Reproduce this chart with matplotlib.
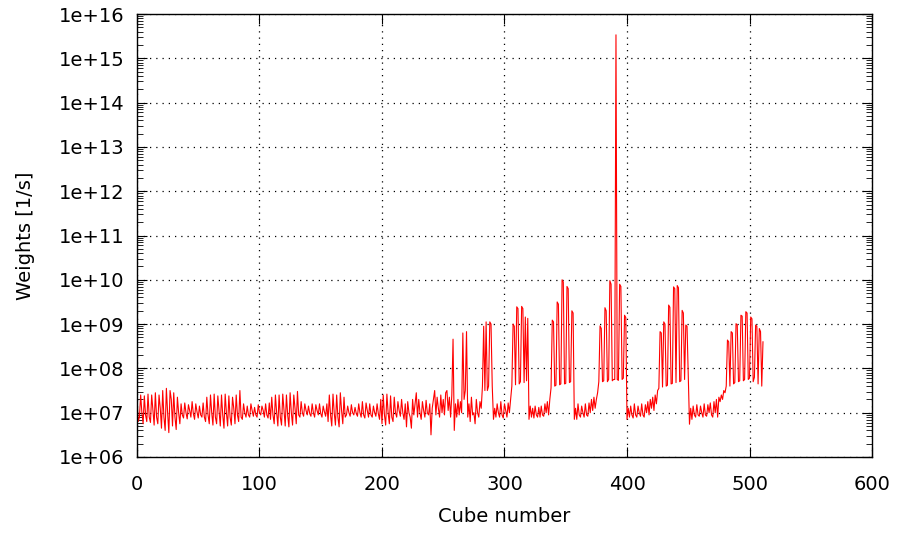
import numpy as np
import matplotlib
matplotlib.use("Agg")
import matplotlib.pyplot as plt
from matplotlib.ticker import FixedLocator, FuncFormatter, LogLocator, NullFormatter

# log10 of the weight for each cube
weights_log10 = [
    7.35, 6.8, 6.9, 7.4, 7.0, 6.75, 7.38, 6.95, 6.8, 7.42, 6.9, 6.78, 7.4, 7.05, 6.72, 7.45,
    6.9, 6.75, 7.4, 7.1, 6.65, 7.5, 6.9, 6.6, 7.55, 7.0, 6.55, 7.5, 7.3, 6.7, 7.45, 6.9,
    6.62, 7.35, 7.0, 6.75, 7.2, 6.95, 6.88, 7.22, 7.0, 6.86, 7.18, 7.05, 6.9, 7.25, 6.98, 6.85,
    7.2, 7.02, 6.88, 7.15, 6.95, 6.9, 7.22, 6.9, 6.8, 7.35, 6.95, 6.75, 7.4, 7.0, 6.72, 7.42,
    6.9, 6.75, 7.38, 7.05, 6.7, 7.4, 6.95, 6.65, 7.42, 7.0, 6.7, 7.38, 6.9, 6.72, 7.35, 7.1,
    6.75, 7.4, 6.95, 6.8, 7.5, 6.9, 6.85, 7.2, 7.0, 6.9, 7.15, 6.95, 6.9, 7.2, 7.05, 6.92,
    7.12, 6.95, 6.9, 7.18, 7.0, 6.95, 7.15, 7.05, 6.9, 7.2, 6.95, 6.88, 7.22, 6.85, 7.35, 6.95,
    6.75, 7.4, 7.0, 6.7, 7.4, 6.9, 6.72, 7.42, 7.05, 6.7, 7.4, 6.95, 6.68, 7.45, 7.0, 6.72,
    7.4, 7.1, 6.75, 7.48, 6.95, 6.9, 7.25, 7.0, 6.92, 7.2, 7.05, 6.95, 7.15, 6.98, 6.92, 7.2,
    7.0, 6.9, 7.18, 7.05, 6.95, 7.2, 6.98, 6.9, 7.15, 7.02, 6.92, 7.2, 6.8, 7.4, 6.95, 6.7,
    7.42, 7.0, 6.72, 7.4, 6.9, 6.68, 7.45, 7.05, 6.75, 7.35, 6.9, 6.95, 7.15, 7.0, 6.92, 7.18,
    7.0, 6.95, 7.12, 6.98, 6.92, 7.2, 7.0, 6.9, 7.25, 6.95, 6.88, 7.22, 7.05, 6.9, 7.2, 6.95,
    6.9, 7.15, 7.0, 6.92, 7.2, 6.98, 6.85, 7.3, 6.75, 7.4, 6.95, 6.72, 7.42, 7.0, 6.75, 7.38,
    6.9, 6.8, 7.35, 7.0, 6.9, 7.25, 7.05, 6.92, 7.3, 7.0, 6.85, 7.2, 6.68, 7.25, 7.0, 6.9,
    6.65, 7.3, 6.95, 7.2, 7.45, 6.9, 7.3, 7.0, 6.85, 7.25, 7.05, 6.9, 7.28, 7.0, 6.95, 7.2,
    6.5, 7.1, 7.3, 7.5, 6.95, 7.35, 7.1, 6.9, 7.4, 7.0, 7.3, 6.95, 7.45, 7.5, 7.05, 7.35,
    6.9, 7.4, 8.66, 6.6, 7.2, 6.9, 7.3, 6.95, 7.25, 7.0, 8.8, 7.3, 7.5, 8.83, 6.9, 7.2,
    6.8, 7.35, 6.95, 7.0, 6.75, 7.3, 7.0, 6.9, 7.25, 7.1, 7.6, 8.95, 7.5, 9.05, 7.5, 7.6,
    9.05, 9.0, 7.6, 6.85, 7.1, 6.9, 7.2, 7.0, 6.9, 7.25, 6.95, 6.88, 7.2, 7.05, 6.9, 7.22,
    7.0, 7.3, 7.6, 9.0, 8.95, 7.63, 9.39, 9.35, 7.65, 7.7, 9.4, 9.35, 7.68, 9.16, 7.72, 9.13,
    6.85, 7.15, 6.9, 7.1, 6.88, 7.15, 6.95, 6.9, 7.12, 6.9, 7.15, 6.95, 6.92, 7.2, 7.0, 7.25,
    6.95, 7.3, 7.56, 9.09, 9.05, 7.6, 7.62, 9.5, 9.45, 7.63, 7.65, 10.0, 9.95, 7.65, 7.66, 9.85,
    9.8, 7.68, 7.7, 9.3, 9.25, 6.85, 7.1, 6.85, 7.2, 6.95, 6.9, 7.15, 7.0, 6.9, 7.2, 6.95,
    6.92, 7.22, 7.0, 7.3, 7.05, 7.35, 7.1, 7.3, 7.45, 7.7, 8.96, 8.9, 7.7, 7.72, 9.37, 9.3,
    7.7, 7.75, 9.98, 9.9, 7.72, 7.75, 7.75, 15.53, 7.75, 7.73, 9.9, 9.85, 7.75, 7.78, 9.2, 9.15,
    6.85, 7.1, 6.9, 7.15, 6.95, 6.88, 7.2, 6.95, 6.9, 7.15, 7.0, 6.92, 7.2, 6.95, 6.9, 7.18,
    7.0, 7.25, 6.95, 7.3, 7.1, 7.35, 7.05, 7.4, 7.2, 7.5, 7.55, 8.83, 8.8, 7.58, 9.05, 9.0,
    7.6, 7.62, 9.43, 9.38, 7.65, 7.66, 9.84, 9.8, 7.68, 9.87, 9.82, 7.7, 7.72, 9.31, 9.25, 7.75,
    8.98, 8.95, 7.8, 6.74, 7.1, 6.85, 7.15, 6.95, 6.9, 7.18, 6.95, 6.92, 7.15, 7.0, 6.9, 7.2,
    6.95, 6.92, 7.18, 7.0, 7.22, 6.95, 6.9, 7.25, 7.0, 7.3, 6.9, 7.35, 7.25, 7.4, 7.3, 7.5,
    7.45, 7.6, 8.64, 8.6, 7.6, 8.83, 8.8, 7.65, 7.68, 9.01, 8.98, 7.7, 7.72, 9.2, 9.18, 7.72,
    7.75, 9.28, 9.25, 7.75, 7.78, 9.16, 9.12, 7.7, 7.8, 8.98, 8.95, 7.65, 8.9, 8.83, 7.6, 8.6,
]

x_ticks = [0, 100, 200, 300, 400, 500, 600]
y_exponents = [6, 7, 8, 9, 10, 11, 12, 13, 14, 15, 16]

cube = np.arange(len(weights_log10))
weights = 10.0 ** np.array(weights_log10)

fig = plt.figure(figsize=(9, 5.33), dpi=100)
ax = fig.add_axes([0.1522, 0.1426, 0.8167, 0.8311])

ax.plot(cube, weights, color='red', linewidth=0.8)

ax.set_yscale('log')
ax.set_xlim(0, 600)
ax.set_ylim(1e6, 1e16)

ax.xaxis.set_major_locator(FixedLocator(x_ticks))
ax.yaxis.set_major_locator(FixedLocator([10.0 ** e for e in y_exponents]))
ax.yaxis.set_major_formatter(FuncFormatter(lambda v, p: '1e+%02d' % round(np.log10(v))))
ax.yaxis.set_minor_locator(LogLocator(base=10, subs=np.arange(2, 10), numticks=100))
ax.yaxis.set_minor_formatter(NullFormatter())

# gnuplot style: inward ticks on every side, dotted grid
ax.tick_params(which='both', direction='in', top=True, right=True, labelsize=14)
ax.tick_params(axis='x', pad=13)
ax.tick_params(axis='y', pad=9)
ax.tick_params(which='major', length=7, width=0.8)
ax.tick_params(which='minor', length=4, width=0.6)
ax.grid(True, which='major', color='black', linestyle=(0, (1, 4)), linewidth=0.9)

for spine in ax.spines.values():
    spine.set_linewidth(1.0)

ax.set_xlabel('Cube number', fontsize=14, labelpad=9)
ax.set_ylabel('Weights [1/s]', fontsize=14, labelpad=17)

fig.savefig('out.png', dpi=100)
